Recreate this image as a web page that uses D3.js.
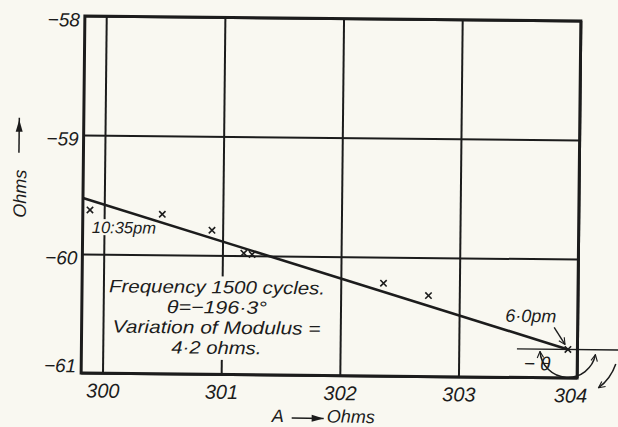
<!DOCTYPE html>
<html>
<head>
<meta charset="utf-8">
<script src="https://cdn.jsdelivr.net/npm/d3@7"></script>
<style>
  html, body { margin: 0; padding: 0; background: #f9f8f1; }
  svg { display: block; }
  text { font-family: "Liberation Sans", Arial, sans-serif; font-style: italic; fill: #1c1c1c; }
</style>
</head>
<body>
<svg id="chart" width="618" height="427"></svg>
<script>
// Impedance readings at 1500 cycles: resistance A (ohms) against reactance (ohms)
const readingA = [299.88, 300.49, 300.91, 301.18, 301.25, 302.36, 302.74, 303.92];
const readingB = [-59.63, -59.66, -59.79, -59.98, -59.99, -60.22, -60.32, -60.76];

// Straight line through the readings (start of run to end of run)
const fitA = [299.82, 303.92];
const fitB = [-59.53, -60.76];

const xTicks = [300, 301, 302, 303, 304];
const yTicks = [-58, -59, -60, -61];

const notes = ["Frequency 1500 cycles.", "θ=−196·3°", "Variation of Modulus =", "4·2 ohms."];
const noteWidths = [216, 100, 208, 90];
const startLabel = "10:35pm";
const endLabel = "6·0pm";
const angleLabel = "− θ";

const ink = "#1c1c1c";
const paper = "#f9f8f1";
const W = 618, H = 427;
const plotL = 83, plotR = 579, plotT = 18.5, plotB = 375.5;

const svg = d3.select("#chart");
svg.append("rect").attr("width", W).attr("height", H).attr("fill", paper);

// the sheet sits very slightly turned on the page
const root = svg.append("g").attr("transform", "rotate(0.6, 331, 197)");

const x = d3.scaleLinear().domain([299.82, 304]).range([plotL, plotR]);
const y = d3.scaleLinear().domain([-61, -58]).range([plotB, plotT]);

const defs = svg.append("defs");
defs.append("marker")
  .attr("id", "open-head")
  .attr("viewBox", "0 -5 10 10")
  .attr("refX", 9).attr("refY", 0)
  .attr("markerWidth", 8).attr("markerHeight", 8)
  .attr("markerUnits", "userSpaceOnUse")
  .attr("orient", "auto-start-reverse")
  .append("path")
  .attr("d", "M1,-4L9,0L1,4")
  .attr("fill", "none").attr("stroke", ink).attr("stroke-width", 1.4);

const gridLayer = root.append("g");
const maskLayer = root.append("g");
const lineLayer = root.append("g");
const markLayer = root.append("g");
const textLayer = root.append("g");
const frameLayer = root.append("g");

// grid + tick labels
const xAxis = d3.axisBottom(x)
  .tickValues(xTicks)
  .tickSize(-(plotB - plotT))
  .tickFormat(d => String(d));
const gx = gridLayer.append("g").attr("transform", `translate(0,${plotB})`).call(xAxis);
gx.attr("font-family", null).attr("font-size", null);
gx.select(".domain").remove();
gx.selectAll(".tick line").attr("stroke", ink).attr("stroke-width", 2);
gx.selectAll(".tick text")
  .attr("y", 24.5).attr("dy", 0)
  .attr("dx", (d, i) => i === xTicks.length - 1 ? -7 : 0)
  .attr("font-size", 20)
  .attr("fill", ink);

const yAxis = d3.axisLeft(y)
  .tickValues(yTicks)
  .tickSize(-(plotR - plotL))
  .tickPadding(5)
  .tickFormat(d => "−" + Math.abs(d));
const gy = gridLayer.append("g").attr("transform", `translate(${plotL},0)`).call(yAxis);
gy.attr("font-family", null).attr("font-size", null);
gy.select(".domain").remove();
gy.selectAll(".tick line").attr("stroke", ink).attr("stroke-width", 2);
gy.selectAll(".tick text")
  .attr("x", -5)
  .attr("dy", (d, i) => (i === yTicks.length - 1 ? -8 : 3) + 7)
  .attr("font-size", 19)
  .attr("fill", ink);

// fitted line
const pts = fitA.map((a, i) => [a, fitB[i]]);
lineLayer.append("path")
  .attr("d", d3.line().x(d => x(d[0])).y(d => y(d[1]))(pts))
  .attr("fill", "none").attr("stroke", ink).attr("stroke-width", 2.6);

// readings
const cross = d3.symbol(d3.symbolX, 28);
markLayer.selectAll("path.reading")
  .data(readingA.map((a, i) => [a, readingB[i]]))
  .join("path")
  .attr("class", "reading")
  .attr("transform", d => `translate(${x(d[0])},${y(d[1])})`)
  .attr("d", cross)
  .attr("fill", "none").attr("stroke", ink).attr("stroke-width", 1.6);

// start label with a clear patch behind it
const sx = x(readingA[0]), sy = y(readingB[0]);
const startText = textLayer.append("text")
  .attr("x", sx + 2).attr("y", sy + 23)
  .attr("font-size", 16.5)
  .text(startLabel);
const sb = startText.node().getBBox();
maskLayer.append("rect")
  .attr("x", sb.x - 1).attr("y", sb.y + 1).attr("width", sb.width + 2).attr("height", sb.height - 2)
  .attr("fill", paper);

// notes block
const notesX = x(301) - 5;
const notesY = y(-60) + 38;
const noteGroup = textLayer.append("g");
noteGroup.selectAll("text")
  .data(notes)
  .join("text")
  .attr("x", notesX)
  .attr("y", (d, i) => notesY + i * 20.2)
  .attr("text-anchor", "middle")
  .attr("font-size", 18)
  .attr("textLength", (d, i) => noteWidths[i])
  .attr("lengthAdjust", "spacingAndGlyphs")
  .text(d => d);
const nb = noteGroup.node().getBBox();
maskLayer.append("rect")
  .attr("x", nb.x - 3).attr("y", nb.y - 1).attr("width", nb.width + 6).attr("height", nb.height + 3)
  .attr("fill", paper);

// end of run: label, pointer, angle marking
const ex = x(readingA[readingA.length - 1]), ey = y(readingB[readingB.length - 1]);
textLayer.append("text")
  .attr("x", ex - 63).attr("y", ey - 27)
  .attr("font-size", 18)
  .text(endLabel);
textLayer.append("path")
  .attr("d", `M${ex - 14},${ey - 22}L${ex - 3},${ey - 5}`)
  .attr("fill", "none").attr("stroke", ink).attr("stroke-width", 1.4)
  .attr("marker-end", "url(#open-head)");

// horizontal reference through the last reading
lineLayer.append("line")
  .attr("x1", ex - 51).attr("x2", ex + 60)
  .attr("y1", ey).attr("y2", ey)
  .attr("stroke", ink).attr("stroke-width", 1.4);

const arc = d3.path();
arc.arc(ex, ey, 28, Math.PI - 0.08, 0.18, true);
lineLayer.append("path")
  .attr("d", arc.toString())
  .attr("fill", "none").attr("stroke", ink).attr("stroke-width", 1.5)
  .attr("marker-start", "url(#open-head)")
  .attr("marker-end", "url(#open-head)");

lineLayer.append("path")
  .attr("d", `M${ex + 48},${ey + 14}Q${ex + 43},${ey + 29} ${ex + 31},${ey + 38}`)
  .attr("fill", "none").attr("stroke", ink).attr("stroke-width", 1.5)
  .attr("marker-end", "url(#open-head)");

textLayer.append("text")
  .attr("x", ex - 44).attr("y", ey + 21)
  .attr("font-size", 19)
  .text(angleLabel);

// frame
frameLayer.append("rect")
  .attr("x", plotL).attr("y", plotT)
  .attr("width", plotR - plotL).attr("height", plotB - plotT)
  .attr("fill", "none").attr("stroke", ink).attr("stroke-width", 3);

// axis titles
const xt = textLayer.append("g").attr("transform", `translate(${(plotL + plotR) / 2 - 57},${plotB + 47})`);
xt.append("text").attr("x", 0).attr("y", 0).attr("font-size", 18).text("A");
xt.append("line").attr("x1", 20).attr("x2", 52).attr("y1", -4).attr("y2", -4)
  .attr("stroke", ink).attr("stroke-width", 1.5);
xt.append("path").attr("d", "M40,-7.5L52,-4L40,-0.5Z").attr("fill", ink);
xt.append("text").attr("x", 55).attr("y", 0).attr("font-size", 18).text("Ohms");

const yt = textLayer.append("g").attr("transform", `translate(26,${(plotT + plotB) / 2})`);
yt.append("text")
  .attr("transform", "rotate(-90)")
  .attr("text-anchor", "middle")
  .attr("font-size", 18)
  .text("Ohms");
yt.append("line").attr("x1", -7.5).attr("x2", -7.5).attr("y1", -41).attr("y2", -76)
  .attr("stroke", ink).attr("stroke-width", 1.5);
yt.append("path").attr("d", "M-11,-62L-7.5,-74L-4,-62Z").attr("fill", ink);
</script>
</body>
</html>
